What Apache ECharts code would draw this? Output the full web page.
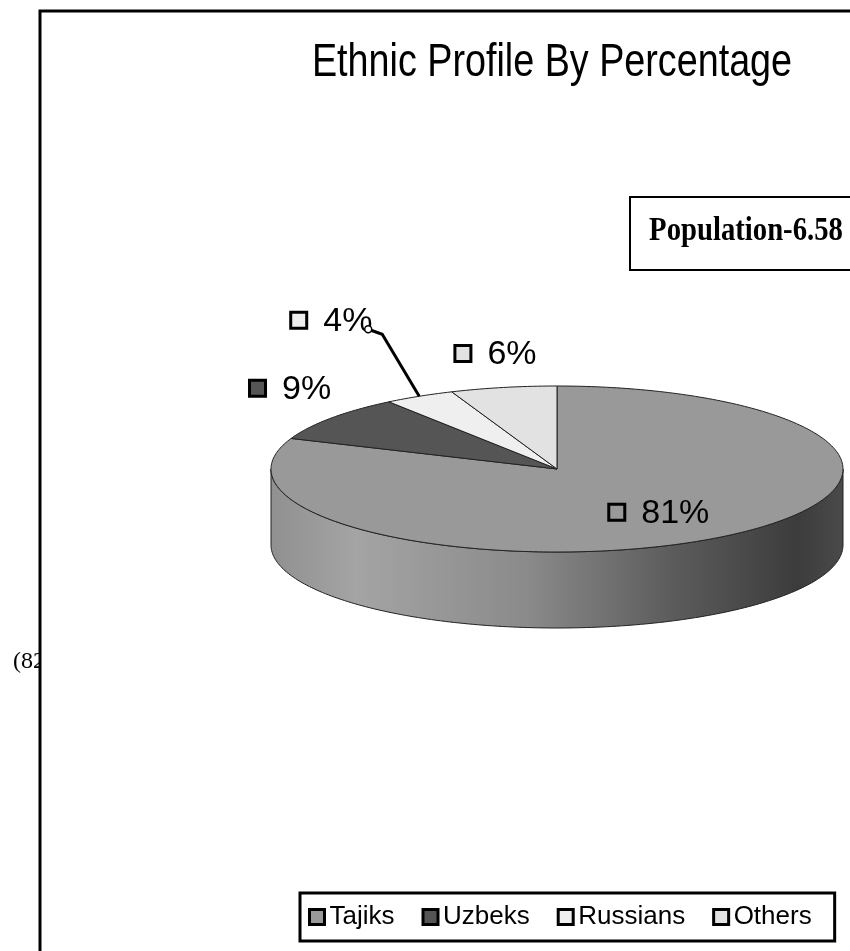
<!DOCTYPE html>
<html>
<head>
<meta charset="utf-8">
<script src="https://cdn.jsdelivr.net/npm/echarts@6/dist/echarts.min.js"></script>
<style>
html, body { margin: 0; padding: 0; background: #fff; }
#chart { width: 850px; height: 951px; }
</style>
</head>
<body>
<div id="chart"></div>
<script>
// data
const categories = ['Tajiks', 'Uzbeks', 'Russians', 'Others']
const shares = [81, 9, 4, 6]
const titleText = 'Ethnic Profile By Percentage'
const noteText = 'Population-6.58'

// styles
const sliceColors = ['#999999', '#555555', '#efefef', '#e2e2e2']
const PIE = { cx: 557, cy: 469, rx: 286, ry: 83, depth: 76 }
// label anchor: inside factor for the big slice, else offset from rim point
const labelPlace = [
    { f: 0.63, dx: -51, dy: 0 },
    { f: 1, dx: -83, dy: -30 },
    { f: 1, dx: -130, dy: -76, leader: [[-37, -62], [-51, -67]] },
    { f: 1, dx: -50, dy: -34 }
]

const chart = echarts.init(document.getElementById('chart'))

function pt (a, f, dy) {
    return [PIE.cx + PIE.rx * f * Math.sin(a), PIE.cy - PIE.ry * f * Math.cos(a) + (dy || 0)]
}

function arc (a0, a1, dy) {
    const pts = []
    const n = Math.max(2, Math.ceil((a1 - a0) / (Math.PI / 180)))
    for (let k = 0; k <= n; k++) {
        pts.push(pt(a0 + (a1 - a0) * k / n, 1, dy))
    }
    return pts
}

function renderSlice (params, api) {
    const i = params.seriesIndex
    const total = shares.reduce((s, v) => s + v, 0)
    let before = 0
    for (let k = 0; k < i; k++) before += shares[k]
    const value = api.value(0)
    const a0 = before / total * Math.PI * 2
    const a1 = (before + value) / total * Math.PI * 2
    const color = sliceColors[i]
    const children = []

    // front wall
    const s0 = Math.max(a0, Math.PI / 2)
    const s1 = Math.min(a1, Math.PI * 1.5)
    if (s1 > s0) {
        const pts = arc(s0, s1, 0).concat(arc(s0, s1, PIE.depth).reverse())
        children.push({
            type: 'polygon',
            z2: 1,
            shape: { points: pts },
            style: {
                fill: new echarts.graphic.LinearGradient(1, 0, 0, 0, [
                    { offset: 0, color: '#4a4a4a' },
                    { offset: 0.08, color: '#3c3c3c' },
                    { offset: 0.3, color: '#5c5c5c' },
                    { offset: 0.55, color: '#8a8a8a' },
                    { offset: 0.85, color: '#a4a4a4' },
                    { offset: 1, color: '#909090' }
                ]),
                stroke: '#222',
                lineWidth: 1
            }
        })
    }

    // top face
    children.push({
        type: 'polygon',
        z2: 5,
        shape: { points: [[PIE.cx, PIE.cy]].concat(arc(a0, a1, 0)) },
        style: { fill: color, stroke: '#222', lineWidth: 1 }
    })

    // label
    const lp = labelPlace[i]
    const mid = (a0 + a1) / 2
    const rim = pt(mid, lp.f, 0)
    const lx = rim[0] + lp.dx
    const ly = rim[1] + lp.dy
    children.push({
        type: 'rect',
        z2: 10,
        shape: { x: lx + 1.5, y: ly - 8, width: 16, height: 16 },
        style: { fill: color, stroke: '#000', lineWidth: 3 }
    })
    children.push({
        type: 'text',
        z2: 10,
        style: {
            text: Math.round(value / total * 100) + '%',
            x: lx + 34,
            y: ly + 1,
            fontSize: 34,
            fontFamily: 'Liberation Sans, Arial, sans-serif',
            fill: '#000',
            align: 'left',
            verticalAlign: 'middle'
        }
    })
    if (lp.leader) {
        const p1 = [rim[0] + lp.leader[0][0], rim[1] + lp.leader[0][1]]
        const p2 = [rim[0] + lp.leader[1][0], rim[1] + lp.leader[1][1]]
        children.push({
            type: 'polyline',
            z2: 9,
            shape: { points: [rim, p1, p2] },
            style: { stroke: '#000', lineWidth: 3, fill: null }
        })
        children.push({
            type: 'circle',
            z2: 10,
            shape: { cx: p2[0], cy: p2[1], r: 3.5 },
            style: { fill: '#fff', stroke: '#000', lineWidth: 1.5 }
        })
    }
    return { type: 'group', children: children }
}

const option = {
    backgroundColor: '#fff',
    animation: false,
    graphic: [
        {
            type: 'text',
            z: 0,
            style: {
                text: '(82',
                x: 13,
                y: 662,
                fontSize: 24,
                fontFamily: 'Liberation Serif, serif',
                fill: '#000',
                verticalAlign: 'middle'
            }
        },
        {
            type: 'rect',
            z: 1,
            shape: { x: 40, y: 11, width: 840, height: 960 },
            style: { fill: '#fff', stroke: '#000', lineWidth: 3 }
        },
        {
            type: 'text',
            z: 5,
            x: 552,
            y: 63,
            scaleX: 0.82,
            style: {
                text: titleText,
                x: 0,
                y: 0,
                fontSize: 46,
                fontFamily: 'Liberation Sans, Arial, sans-serif',
                fill: '#000',
                align: 'center',
                verticalAlign: 'middle'
            }
        },
        {
            type: 'rect',
            z: 5,
            shape: { x: 630, y: 197, width: 240, height: 73 },
            style: { fill: '#fff', stroke: '#000', lineWidth: 2 }
        },
        {
            type: 'text',
            z: 6,
            x: 746,
            y: 231,
            scaleX: 0.87,
            style: {
                text: noteText,
                x: 0,
                y: 0,
                fontSize: 33,
                fontWeight: 'bold',
                fontFamily: 'Liberation Serif, serif',
                fill: '#000',
                align: 'center',
                verticalAlign: 'middle'
            }
        }
    ],
    legend: {
        data: categories,
        left: 300,
        top: 893,
        icon: 'rect',
        itemWidth: 15,
        itemHeight: 15,
        itemGap: 27,
        selectedMode: false,
        padding: [11, 23, 11, 8],
        borderColor: '#000',
        borderWidth: 3,
        backgroundColor: '#fff',
        itemStyle: { borderColor: '#000', borderWidth: 3 },
        textStyle: {
            fontSize: 26,
            fontFamily: 'Liberation Sans, Arial, sans-serif',
            color: '#000'
        }
    },
    series: categories.map((name, i) => ({
        type: 'custom',
        name: name,
        coordinateSystem: 'none',
        silent: true,
        itemStyle: { color: sliceColors[i] },
        renderItem: renderSlice,
        data: [shares[i]]
    }))
}

chart.setOption(option)
</script>
</body>
</html>
